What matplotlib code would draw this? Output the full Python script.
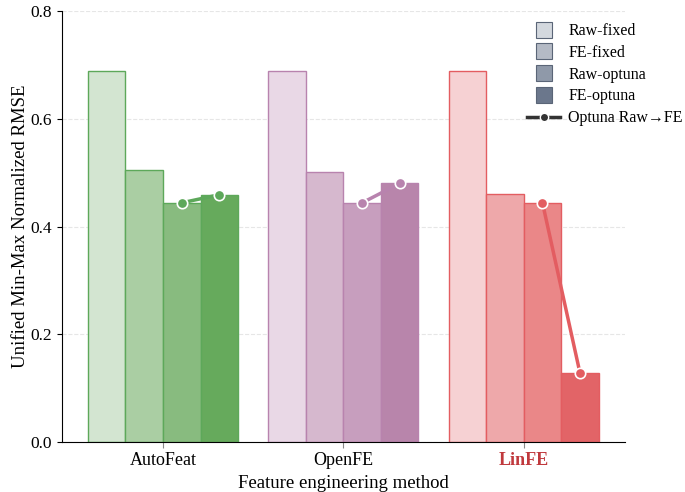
import numpy as np
import matplotlib
matplotlib.use("Agg")
import matplotlib.pyplot as plt
from matplotlib.lines import Line2D

plt.rcParams["font.family"] = ["Liberation Serif", "DejaVu Serif"]

methods = ["AutoFeat", "OpenFE", "LinFE"]
settings = ["Raw-fixed", "FE-fixed", "Raw-optuna", "FE-optuna"]
raw_fixed = [0.689, 0.689, 0.689]
fe_fixed = [0.504, 0.501, 0.460]
raw_optuna = [0.444, 0.444, 0.444]
fe_optuna = [0.459, 0.480, 0.128]

edge_colors = ["#5da85a", "#b883ae", "#e35d61"]
fill_colors = [
    ["#d3e5d1", "#aacea3", "#88bb7f", "#66aa5c"],
    ["#e9d8e6", "#d6b8ce", "#c79ebe", "#b885ab"],
    ["#f6d1d3", "#eea8aa", "#ea8788", "#e26467"],
]
legend_colors = ["#d3d8de", "#b4bac5", "#8f99a9", "#6b778c"]

fig = plt.figure(figsize=(6.85, 4.92), dpi=100)
ax = fig.add_axes([0.0905, 0.1016, 0.8215, 0.876])

x = np.arange(len(methods))
w = 0.208
vals = [raw_fixed, fe_fixed, raw_optuna, fe_optuna]
for j, series in enumerate(vals):
    off = (j - 1.5) * w
    for i in range(len(methods)):
        ax.bar(x[i] + off, series[i], width=w, color=fill_colors[i][j],
               edgecolor=edge_colors[i], linewidth=1.0, zorder=2)

for i in range(len(methods)):
    ax.plot([x[i] + 0.5 * w, x[i] + 1.5 * w], [raw_optuna[i], fe_optuna[i]],
            color=edge_colors[i], lw=2.5, marker="o", ms=7.5,
            markeredgecolor="white", markeredgewidth=1.2, zorder=4)

ax.set_xlim(-0.56, 2.56)
ax.set_ylim(0, 0.8)
ax.set_yticks([0.0, 0.2, 0.4, 0.6, 0.8])
ax.set_xticks(x)
ax.set_xticklabels(methods, fontsize=13)
ax.get_xticklabels()[2].set_color("#c0393d")
ax.get_xticklabels()[2].set_fontweight("bold")
ax.tick_params(axis="x", color="#888888", length=4)
ax.tick_params(axis="y", labelsize=12.5)
ax.grid(axis="y", linestyle="--", color="#e6e6e6", linewidth=0.8, zorder=0)
ax.set_axisbelow(True)
for s in ["top", "right"]:
    ax.spines[s].set_visible(False)

ax.set_xlabel("Feature engineering method", fontsize=13.5)
ax.set_ylabel("Unified Min-Max Normalized RMSE", fontsize=13.5, labelpad=1)

handles = [Line2D([0], [0], linestyle="none", marker="s", ms=11,
                  markerfacecolor=c, markeredgecolor="#5a6577",
                  markeredgewidth=0.8, label=l)
           for c, l in zip(legend_colors, settings)]
handles.append(Line2D([0], [0], color="#333333", lw=2.5, marker="o", ms=6,
                      markeredgecolor="white", label="Optuna Raw\u2192FE"))
fig.legend(handles=handles, loc="upper right", bbox_to_anchor=(1.018, 0.982),
           frameon=False, fontsize=11.5, handlelength=2.1, handletextpad=0.5,
           labelspacing=0.36)

fig.savefig("out.png", dpi=100)
